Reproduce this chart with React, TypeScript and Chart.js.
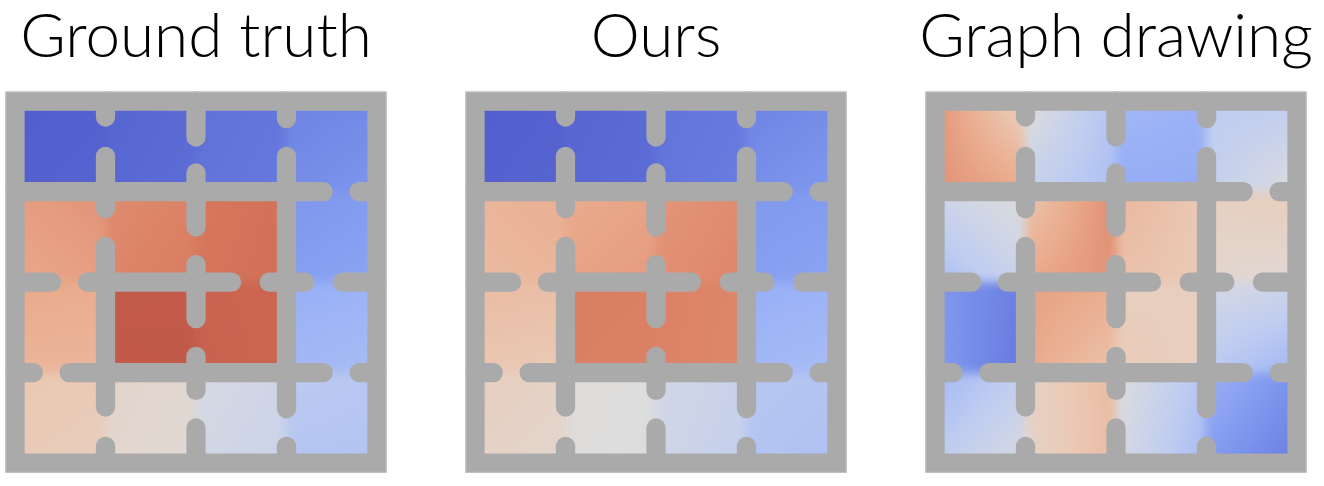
import React, { useEffect, useRef } from "react";
import { Chart, registerables } from "chart.js";

Chart.register(...registerables);

// Panel titles
const panelTitles = ["Ground truth", "Ours", "Graph drawing"];

// Each cell: [topLeft, topRight, bottomLeft, bottomRight] value in [-1, 1]
const groundTruth: number[][][] = [
  [[-0.98, -0.96, -0.96, -0.93], [-0.92, -0.88, -0.9, -0.86], [-0.84, -0.8, -0.82, -0.78], [-0.72, -0.68, -0.66, -0.6]],
  [[0.47, 0.52, 0.42, 0.46], [0.55, 0.6, 0.58, 0.64], [0.68, 0.73, 0.7, 0.74], [-0.6, -0.56, -0.54, -0.5]],
  [[0.42, 0.4, 0.34, 0.33], [0.92, 0.94, 0.96, 0.94], [0.84, 0.82, 0.86, 0.82], [-0.42, -0.4, -0.36, -0.33]],
  [[0.22, 0.2, 0.19, 0.16], [0.1, 0.06, 0.08, 0.04], [-0.05, -0.1, -0.08, -0.13], [-0.22, -0.24, -0.26, -0.27]],
];

const ours: number[][][] = [
  [[-0.98, -0.95, -0.96, -0.92], [-0.92, -0.88, -0.9, -0.86], [-0.82, -0.78, -0.8, -0.76], [-0.72, -0.66, -0.64, -0.58]],
  [[0.34, 0.38, 0.3, 0.34], [0.4, 0.44, 0.44, 0.48], [0.5, 0.56, 0.54, 0.58], [-0.58, -0.56, -0.54, -0.5]],
  [[0.3, 0.28, 0.22, 0.2], [0.64, 0.62, 0.62, 0.6], [0.6, 0.58, 0.6, 0.57], [-0.42, -0.4, -0.36, -0.33]],
  [[0.16, 0.12, 0.12, 0.08], [0.03, 0.0, 0.02, -0.02], [-0.08, -0.14, -0.1, -0.17], [-0.24, -0.27, -0.27, -0.29]],
];

const graphDrawing: number[][][] = [
  [[0.52, 0.12, 0.52, 0.42], [0.02, -0.28, -0.16, -0.3], [-0.36, -0.4, -0.44, -0.45], [-0.2, -0.2, -0.18, 0.0]],
  [[-0.1, 0.0, -0.32, -0.12], [0.22, 0.56, 0.42, 0.52], [0.34, 0.2, 0.26, 0.2], [0.14, 0.18, 0.08, 0.04]],
  [[-0.58, -0.75, -0.55, -0.8], [0.46, 0.4, 0.42, 0.24], [0.15, 0.16, 0.2, 0.14], [-0.06, -0.1, -0.22, -0.38]],
  [[-0.36, -0.18, -0.2, -0.04], [0.12, 0.3, 0.1, 0.3], [0.0, -0.26, -0.05, -0.34], [-0.4, -0.62, -0.56, -0.76]],
];

const panelData = [groundTruth, ours, graphDrawing];

// Maze walls (same in every panel), in grid units; segments are visual extents
const verticalWalls = [
  { at: 1, segs: [[0, 0.282], [0.503, 1.295], [1.497, 3.486], [3.707, 4]] },
  { at: 2, segs: [[0, 0.503], [0.687, 1.497], [1.7, 2.51], [2.713, 3.302], [3.505, 4]] },
  { at: 3, segs: [[0, 0.3], [0.503, 3.505], [3.707, 4]] },
];
const horizontalWalls = [
  { at: 1, segs: [[0, 3.512], [3.696, 4]] },
  { at: 2, segs: [[0, 0.51], [0.694, 2.499], [2.702, 3.309], [3.512, 4]] },
  { at: 3, segs: [[0, 0.308], [0.492, 3.512], [3.696, 4]] },
];

const WALL = 0.213;
const WALL_COLOR = "#aaaaaa";

const cmapStops: [number, number[]][] = [
  [-1.0, [80, 92, 203]],
  [-0.9, [89, 103, 210]],
  [-0.8, [100, 118, 220]],
  [-0.6, [125, 150, 237]],
  [-0.4, [155, 178, 246]],
  [-0.2, [192, 205, 240]],
  [0.0, [221, 221, 221]],
  [0.2, [234, 202, 182]],
  [0.4, [234, 172, 142]],
  [0.6, [220, 130, 102]],
  [0.8, [205, 104, 82]],
  [1.0, [190, 84, 70]],
];

function cmap(v: number): number[] {
  if (v <= cmapStops[0][0]) return cmapStops[0][1];
  for (let i = 1; i < cmapStops.length; i++) {
    const [v1, c1] = cmapStops[i];
    const [v0, c0] = cmapStops[i - 1];
    if (v <= v1) {
      const t = (v - v0) / (v1 - v0);
      return [0, 1, 2].map((k) => c0[k] + (c1[k] - c0[k]) * t);
    }
  }
  return cmapStops[cmapStops.length - 1][1];
}

function fieldValue(cells: number[][][], u: number, v: number): number {
  const cu = Math.min(3.9999, Math.max(0, u));
  const cv = Math.min(3.9999, Math.max(0, v));
  const c = Math.floor(cu);
  const r = Math.floor(cv);
  const fx = cu - c;
  const fy = cv - r;
  const [tl, tr, bl, br] = cells[r][c];
  return tl * (1 - fx) * (1 - fy) + tr * fx * (1 - fy) + bl * (1 - fx) * fy + br * fx * fy;
}

function MazePanel({ title, cells, left }: { title: string; cells: number[][][]; left: number }) {
  const ref = useRef<HTMLCanvasElement>(null);
  useEffect(() => {
    const canvas = ref.current!;
    const mazePlugin = {
      id: "mazeDraw",
      beforeDatasetsDraw(chart: any) {
        const { ctx, scales } = chart;
        const xs = scales.x;
        const ys = scales.y;
        const X = (u: number) => xs.getPixelForValue(u);
        const Y = (u: number) => ys.getPixelForValue(u);
        const unit = X(1) - X(0);

        // value field, rendered over the whole grid (slightly beyond), then softened
        const x0 = Math.floor(X(-0.15));
        const x1 = Math.ceil(X(4.15));
        const y0 = Math.floor(Y(-0.15));
        const y1 = Math.ceil(Y(4.15));
        const W = x1 - x0;
        const H = y1 - y0;
        const off = document.createElement("canvas");
        off.width = W;
        off.height = H;
        const octx = off.getContext("2d")!;
        const img = octx.createImageData(W, H);
        for (let py = 0; py < H; py++) {
          const v = ys.getValueForPixel(y0 + py + 0.5);
          for (let px = 0; px < W; px++) {
            const u = xs.getValueForPixel(x0 + px + 0.5);
            const c = cmap(fieldValue(cells, u, v));
            const idx = (py * W + px) * 4;
            img.data[idx] = c[0];
            img.data[idx + 1] = c[1];
            img.data[idx + 2] = c[2];
            img.data[idx + 3] = 255;
          }
        }
        octx.putImageData(img, 0, 0);
        ctx.save();
        ctx.beginPath();
        ctx.rect(X(0), Y(0), X(4) - X(0), Y(4) - Y(0));
        ctx.clip();
        ctx.filter = "blur(5px)";
        ctx.drawImage(off, x0, y0);
        ctx.filter = "none";
        ctx.restore();

        ctx.save();
        const lw = WALL * unit;
        const rr = WALL / 2;
        ctx.strokeStyle = WALL_COLOR;
        ctx.lineWidth = lw;
        ctx.lineCap = "round";
        verticalWalls.forEach((w) => {
          w.segs.forEach(([a, b]) => {
            const a2 = a <= 0 ? 0 : a + rr;
            const b2 = b >= 4 ? 4 : b - rr;
            ctx.beginPath();
            ctx.moveTo(X(w.at), Y(a2));
            ctx.lineTo(X(w.at), Y(b2));
            ctx.stroke();
          });
        });
        horizontalWalls.forEach((w) => {
          w.segs.forEach(([a, b]) => {
            const a2 = a <= 0 ? 0 : a + rr;
            const b2 = b >= 4 ? 4 : b - rr;
            ctx.beginPath();
            ctx.moveTo(X(a2), Y(w.at));
            ctx.lineTo(X(b2), Y(w.at));
            ctx.stroke();
          });
        });
        // outer border
        ctx.lineCap = "butt";
        ctx.lineJoin = "miter";
        ctx.strokeRect(X(0), Y(0), X(4) - X(0), Y(4) - Y(0));
        ctx.lineWidth = 1;
        ctx.strokeStyle = "#c4c4c4";
        const o = lw / 2;
        ctx.strokeRect(X(0) - o + 0.5, Y(0) - o + 0.5, X(4) - X(0) + lw - 1, Y(4) - Y(0) + lw - 1);
        ctx.restore();
      },
    };
    const chart = new Chart(canvas, {
      type: "scatter",
      data: { datasets: [] },
      options: {
        animation: false,
        responsive: false,
        maintainAspectRatio: false,
        layout: { padding: { left: 30.9, right: 30.9, top: 0, bottom: 4.73 } },
        scales: {
          x: { type: "linear", min: -0.2, max: 4.2, display: false },
          y: { type: "linear", min: -0.2, max: 4.2, reverse: true, display: false },
        },
        plugins: {
          legend: { display: false },
          tooltip: { enabled: false },
          title: {
            display: true,
            text: title,
            color: "#000000",
            font: { family: "Lato", size: 62, weight: "300", lineHeight: 1.2 },
            padding: { top: 0.2, bottom: 8.47 },
          },
        },
      },
      plugins: [mazePlugin],
    });
    return () => chart.destroy();
  }, [title, cells]);
  return (
    <canvas
      ref={ref}
      width={460}
      height={486}
      style={{ position: "absolute", left, top: 0, width: 460, height: 486 }}
    />
  );
}

export default function App() {
  const lefts = [-34, 426, 886];
  return (
    <div style={{ position: "absolute", left: 0, top: 0, width: 1324, height: 486, overflow: "hidden", background: "#ffffff" }}>
      {panelTitles.map((t, i) => (
        <MazePanel key={t} title={t} cells={panelData[i]} left={lefts[i]} />
      ))}
    </div>
  );
}
